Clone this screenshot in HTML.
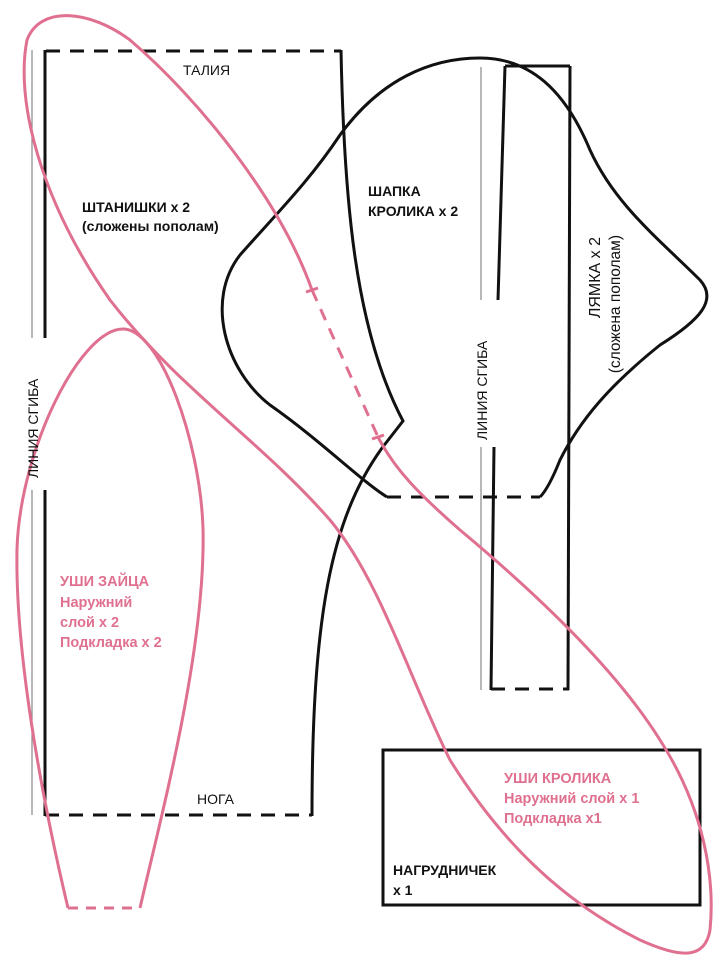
<!DOCTYPE html>
<html><head><meta charset="utf-8"><style>
html,body{margin:0;padding:0;background:#fff;width:723px;height:970px;overflow:hidden}
svg{display:block}
text{font-family:"Liberation Sans",sans-serif}
</style></head><body>
<svg width="723" height="970" viewBox="0 0 723 970" xmlns="http://www.w3.org/2000/svg">
<g fill="none" stroke="#111" stroke-width="3" stroke-linecap="butt">
<line x1="46" y1="51" x2="341" y2="51" stroke-dasharray="14,10"/>
<line x1="45" y1="50" x2="45" y2="338"/>
<line x1="45" y1="490" x2="45" y2="816"/>
<line x1="45" y1="815" x2="312" y2="815" stroke-dasharray="14,10"/>
<path d="M341,50 C344,200 355,330 403,421 L382,448 C330,520 312,620 312,816"/>
<path d="M387,497 C360,480 320,440 270,405 C225,370 205,300 240,255 C280,210 310,180 340,135 C380,80 430,58 480,58 C530,58 565,90 590,150 C615,205 660,240 700,280 C718,300 700,320 660,345 C610,385 580,420 560,460 C552,480 545,492 540,497"/>
<line x1="387" y1="497" x2="540" y2="497" stroke-dasharray="14,10"/>
<line x1="505" y1="66" x2="570" y2="66"/>
<path d="M505,66 L498,300"/>
<path d="M494,447 L491,690"/>
<path d="M570,66 L568,690"/>
<line x1="491" y1="689" x2="569" y2="689" stroke-dasharray="14,10"/>
<rect x="383" y="750" width="317" height="155"/>
</g>
<g stroke="#888" stroke-width="1.2">
<line x1="32" y1="50" x2="32" y2="338"/>
<line x1="32" y1="490" x2="32" y2="815"/>
<line x1="481" y1="67" x2="481" y2="300"/>
<line x1="481" y1="447" x2="481" y2="690"/>
</g>
<g fill="none" stroke="#e0708f" stroke-width="3">
<path d="M68,908 C40,790 15,650 17,549 C20,450 80,329 123,329 C160,329 200,440 203,528 C206,650 160,820 140,908"/>
<line x1="68" y1="908" x2="140" y2="908" stroke-dasharray="10,8"/>
<path d="M312,290 C280,200 200,100 130,40 C90,10 40,5 27,40 C15,100 40,200 110,300 C180,390 260,440 330,520 C380,580 410,680 450,760 C500,840 560,900 640,940 C680,958 705,960 710,930 C715,880 705,810 660,740 C610,660 520,580 460,530 C420,495 395,470 378,437"/>
<line x1="312" y1="290" x2="378" y2="437" stroke-dasharray="12,9"/>
<line x1="306" y1="292" x2="318" y2="288"/>
<line x1="372" y1="439" x2="384" y2="435"/>
</g>
<g fill="#111" font-size="14">
<text x="183" y="75">ТАЛИЯ</text>
<text x="82" y="212" font-weight="bold">ШТАНИШКИ x 2</text>
<text x="82" y="231" font-weight="bold">(сложены пополам)</text>
<text x="368" y="196" font-weight="bold">ШАПКА</text>
<text x="368" y="216" font-weight="bold">КРОЛИКА x 2</text>
<text x="197" y="804">НОГА</text>
<text x="393" y="875" font-weight="bold">НАГРУДНИЧЕК</text>
<text x="393" y="895" font-weight="bold">x 1</text>
<text transform="translate(38,478) rotate(-90)">ЛИНИЯ СГИБА</text>
<text transform="translate(487,440) rotate(-90)">ЛИНИЯ СГИБА</text>
<text transform="translate(600,237) rotate(-90)" font-size="16" text-anchor="end">ЛЯМКА x 2</text>
<text transform="translate(620,235) rotate(-90)" font-size="15.5" text-anchor="end">(сложена пополам)</text>
</g>
<g fill="#e0708f" font-size="14.5" font-weight="bold">
<text x="60" y="586">УШИ ЗАЙЦА</text>
<text x="60" y="607">Наружний</text>
<text x="60" y="627">слой x 2</text>
<text x="60" y="647">Подкладка x 2</text>
<text x="504" y="783">УШИ КРОЛИКА</text>
<text x="504" y="803">Наружний слой x 1</text>
<text x="504" y="823">Подкладка x1</text>
</g>
</svg>
</body></html>
